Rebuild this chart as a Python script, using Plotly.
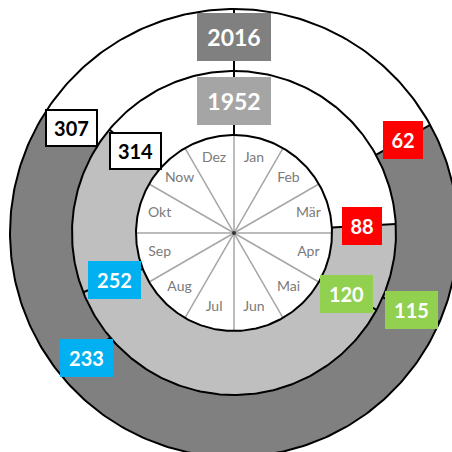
import numpy as np
import plotly.graph_objects as go

# ---------------- data ----------------
DAYS_IN_YEAR = 365
months = ["Jan", "Feb", "Mär", "Apr", "Mai", "Jun", "Jul", "Aug", "Sep", "Okt", "Now", "Dez"]
years = [2016, 1952]
days_2016 = [62, 115, 233, 307]
days_1952 = [88, 120, 252, 314]

# ---------------- style ----------------
R_CENTER = 98
R_MID = 162
R_OUT = 224
ring_geom = [  # (r_in, r_out, fill colour, label radius, year radius, year box colour)
    (R_MID, R_OUT, "#808080", 193, 196, "#808080"),
    (R_CENTER, R_MID, "#bfbfbf", 128, 132, "#a5a5a5"),
]
marker_bg = ["#ff0000", "#92d050", "#00b0f0", "#ffffff"]
marker_fg = ["white", "white", "white", "black"]
FONT = "Lato, Open Sans, sans-serif"


def ang(d):
    return np.asarray(d, dtype=float) / DAYS_IN_YEAR * 2 * np.pi


def pol(r, d):
    t = ang(d)
    return r * np.sin(t), r * np.cos(t)


fig = go.Figure()
ring_days = [days_2016, days_1952]

# ring fills
for (r_in, r_out, col, *_), dys in zip(ring_geom, ring_days):
    bounds = [0] + list(dys) + [DAYS_IN_YEAR]
    for i in range(len(bounds) - 1):
        d0, d1 = bounds[i], bounds[i + 1]
        ds = np.linspace(d0, d1, 120)
        xo, yo = pol(r_out, ds)
        xi, yi = pol(r_in, ds[::-1])
        x = np.concatenate([xo, xi, xo[:1]])
        y = np.concatenate([yo, yi, yo[:1]])
        fill = "white" if i in (0, len(bounds) - 2) else col
        fig.add_trace(go.Scatter(x=x, y=y, mode="lines", fill="toself",
                                 fillcolor=fill, line=dict(width=0),
                                 hoverinfo="skip", showlegend=False))

# center disc
ds = np.linspace(0, DAYS_IN_YEAR, 361)
cx, cy = pol(R_CENTER, ds)
fig.add_trace(go.Scatter(x=cx, y=cy, mode="lines", fill="toself", fillcolor="white",
                         line=dict(width=0), hoverinfo="skip", showlegend=False))

# month spokes
sx, sy = [], []
for k in range(12):
    d = k * DAYS_IN_YEAR / 12
    x1, y1 = pol(R_CENTER, d)
    sx += [0, float(x1), None]
    sy += [0, float(y1), None]
fig.add_trace(go.Scatter(x=sx, y=sy, mode="lines", line=dict(color="#a6a6a6", width=1.5),
                         hoverinfo="skip", showlegend=False))

# boundary radial lines
bx, by = [], []
x0, y0 = pol(R_CENTER, 0)
x1, y1 = pol(R_OUT, 0)
bx += [float(x0), float(x1), None]
by += [float(y0), float(y1), None]
for (r_in, r_out, *_), dys in zip(ring_geom, ring_days):
    for d in dys:
        x0, y0 = pol(r_in, d)
        x1, y1 = pol(r_out, d)
        bx += [float(x0), float(x1), None]
        by += [float(y0), float(y1), None]
fig.add_trace(go.Scatter(x=bx, y=by, mode="lines", line=dict(color="black", width=2),
                         hoverinfo="skip", showlegend=False))

# circles
for r in (R_CENTER, R_MID, R_OUT):
    x, y = pol(r, ds)
    fig.add_trace(go.Scatter(x=x, y=y, mode="lines", line=dict(color="black", width=2),
                             hoverinfo="skip", showlegend=False))

# center dot
fig.add_trace(go.Scatter(x=[0], y=[0], mode="markers",
                         marker=dict(color="#333333", size=4),
                         hoverinfo="skip", showlegend=False))

# month labels
mids = [(k + 0.5) * DAYS_IN_YEAR / 12 for k in range(12)]
mx, my = pol(77, mids)
fig.add_trace(go.Scatter(x=mx, y=my, mode="text", text=months,
                         textfont=dict(family=FONT, size=14, color="#7a7a7a"),
                         hoverinfo="skip", showlegend=False))

# value labels
box_w = {2: 40, 3: 53, 4: 74}
for (r_in, r_out, col, r_lab, r_year, ycol), dys, yr in zip(ring_geom, ring_days, years):
    x, y = pol(r_year, 0)
    fig.add_annotation(x=float(x), y=float(y), text=f"<b>{yr}</b>", showarrow=False,
                       font=dict(family=FONT, size=23, color="white"),
                       bgcolor=ycol, width=box_w[4], height=48, borderpad=0,
                       borderwidth=0)
    for i, d in enumerate(dys):
        x, y = pol(r_lab, d)
        s = str(d)
        bw = 2 if i == 3 else 0
        fig.add_annotation(x=float(x), y=float(y), text=f"<b>{s}</b>", showarrow=False,
                           font=dict(family=FONT, size=20, color=marker_fg[i]),
                           bgcolor=marker_bg[i], width=box_w[len(s)] - 2 * bw,
                           height=38 - 2 * bw, borderpad=0, borderwidth=bw,
                           bordercolor="black")

W = H = 452
CX, CY = 234, 233
fig.update_layout(
    width=W, height=H, margin=dict(l=0, r=0, t=0, b=0),
    paper_bgcolor="white", plot_bgcolor="white", showlegend=False,
    hovermode=False,
    xaxis=dict(range=[-CX, W - CX], visible=False, fixedrange=True),
    yaxis=dict(range=[-(H - CY), CY], visible=False, fixedrange=True),
)
fig.write_html("out.html", config={"displayModeBar": False, "staticPlot": True},
               post_script="document.body.style.margin='0';document.body.style.overflow='hidden';")
